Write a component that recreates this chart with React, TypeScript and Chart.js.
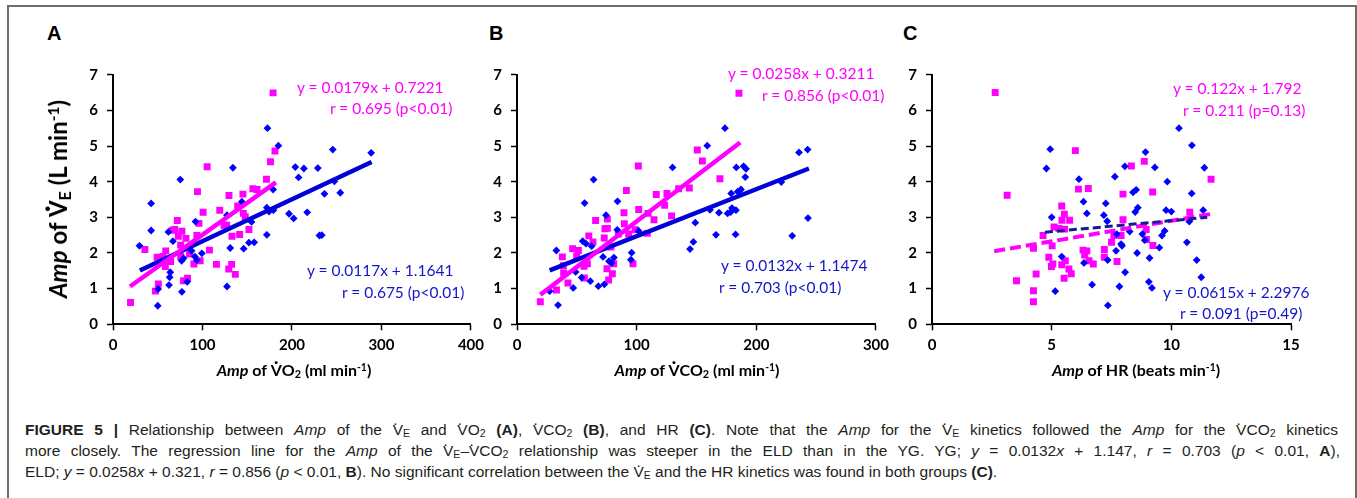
import React, { useEffect, useRef } from "react";
import { Chart, registerables } from "chart.js";

Chart.register(...registerables);

// ---------------- DATA ----------------
// Panel A: Amp of VO2 (x) vs Amp of VE (y)
const aYgX = [29.6, 42.6, 42.6, 50.4, 50, 61.9, 64, 63.3, 62.6, 67, 75.2, 77, 76.7, 78.9, 83, 87.8, 91.5, 92.2, 93.7, 99.3, 127.4, 131, 127.4, 134, 144, 146, 151.9, 154.8, 157.8, 171.9, 172.6, 171.9, 174.4, 178.9, 179.3, 184.8, 196.7, 201.9, 203.7, 207.4, 213.3, 217, 228.9, 230.7, 233.3, 236.3, 245.6, 247.4, 254, 288.5];
const aYgY = [2.2, 3.39, 2.63, 0.99, 0.52, 2.59, 1.46, 1.32, 1.1, 2.33, 4.06, 0.91, 1.78, 1.85, 1.19, 2.06, 1.9, 2.88, 1.8, 1.99, 1.06, 2.14, 3.06, 4.39, 3.44, 2.12, 2.29, 2.87, 2.3, 2.51, 5.5, 3.27, 3.16, 3.78, 3.2, 5.01, 3.1, 2.97, 4.41, 4.12, 4.37, 3.14, 4.38, 2.49, 2.5, 3.66, 4.9, 4.01, 3.69, 4.81];
const aEldX = [19.6, 35.6, 47.4, 50.7, 49.3, 56, 58.9, 58.5, 64.4, 66.3, 69, 71.9, 73, 75.6, 77, 75.6, 81.5, 85.6, 78.9, 83.3, 90.4, 93.7, 94.4, 96, 97.4, 100.7, 105.2, 107.8, 115.6, 119.3, 124, 127, 129.3, 132.6, 129.6, 133, 136.7, 139.3, 141.5, 145.2, 145.6, 147.8, 151.9, 156.3, 161, 171.5, 176, 181, 178.9];
const aEldY = [0.61, 2.1, 0.93, 1.13, 1.88, 1.9, 2.06, 1.62, 1.76, 2.64, 2.66, 2.91, 2.47, 2.22, 2.61, 1.9, 2.41, 1.97, 1.22, 1.29, 1.69, 2.49, 3.72, 2.83, 1.78, 3.14, 4.42, 2.08, 1.68, 3.2, 2.78, 2.78, 1.55, 1.68, 3.61, 2.47, 1.4, 3.32, 2.52, 3.65, 3.11, 3.02, 2.66, 3.8, 3.78, 4.07, 4.56, 4.86, 6.49];
const aYgLineX = [30, 289];
const aYgLineY = [1.51, 4.55];
const aEldLineX = [19, 182];
const aEldLineY = [1.06, 3.98];

// Panel B: Amp of VCO2 (x) vs Amp of VE (y)
const bYgX = [27.3, 34.3, 32.9, 47, 49, 54, 61.3, 68, 73, 54.9, 57.7, 62.4, 56.5, 64, 71.9, 76.9, 79, 81, 74.4, 83.8, 84, 95.8, 95.2, 101.7, 130, 144.6, 147.4, 149, 159, 161.3, 166.3, 168.8, 173.8, 176, 178.6, 179, 179.7, 182.7, 183, 183.3, 184.4, 187.2, 189.4, 190.8, 191.4, 220.9, 230, 235.7, 242.9, 243.2];
const bYgY = [0.93, 0.54, 2.07, 1.02, 1.47, 1.31, 1.21, 1.07, 1.12, 2.33, 2.26, 2.19, 3.4, 4.06, 1.89, 1.77, 1.72, 1.87, 3.06, 2.65, 3.45, 2.01, 1.81, 2.62, 4.4, 2.11, 2.31, 2.85, 5.01, 3.21, 2.51, 3.13, 5.5, 3.11, 3.15, 3.67, 3.26, 2.52, 3.2, 4.4, 3.72, 3.78, 4.43, 4.13, 4.36, 3.99, 2.48, 4.82, 4.9, 2.98];
const bEldX = [19.5, 33, 37.9, 39, 38.7, 42.6, 46.5, 51.3, 49.9, 56, 56.3, 58.8, 60, 63.5, 65.7, 72.9, 73.5, 75.5, 75.5, 78.5, 75.2, 79.7, 76.6, 80.8, 84.7, 89.4, 89.7, 91.4, 93.3, 96.9, 98.9, 101.4, 101.7, 108.9, 109.5, 114.5, 116.4, 123.4, 125.3, 129.2, 135.1, 144, 150.7, 154.9, 169.6, 185.5];
const bEldY = [0.63, 0.96, 1.89, 1.44, 1.64, 1.16, 2.12, 2.07, 1.91, 1.63, 1.3, 1.7, 2.48, 2.31, 2.91, 2.42, 2.68, 2.95, 2.69, 2.17, 1.56, 1.42, 1.24, 1.7, 2.53, 3.13, 2.82, 3.75, 2.53, 1.7, 2.65, 4.44, 3.22, 2.55, 3.11, 2.93, 3.64, 3.34, 3.67, 3.04, 3.8, 3.82, 4.89, 4.58, 4.08, 6.48];
const bYgLineX = [27.3, 244];
const bYgLineY = [1.51, 4.37];
const bEldLineX = [19.5, 186.5];
const bEldLineY = [0.83, 5.1];

// Panel C: Amp of HR (x) vs Amp of VE (y)
const cYgX = [4.78, 4.94, 5.0, 5.15, 5.42, 6.14, 6.33, 6.47, 6.35, 6.69, 7.18, 7.26, 7.32, 7.34, 7.35, 7.64, 7.69, 7.83, 7.9, 7.94, 7.72, 8.06, 8.07, 8.26, 8.4, 8.53, 8.6, 8.49, 8.57, 8.92, 8.79, 8.89, 9.06, 9.19, 9.09, 9.31, 9.5, 9.61, 9.72, 9.83, 9.78, 10.0, 10.32, 10.65, 10.75, 10.85, 10.86, 11.06, 11.25, 11.33, 11.38, 10.8];
const cYgY = [4.37, 4.91, 3.0, 0.93, 1.9, 4.07, 3.44, 3.11, 1.72, 1.11, 3.06, 3.39, 2.89, 1.8, 0.53, 4.14, 2.06, 1.06, 2.25, 2.2, 2.53, 4.43, 1.46, 2.6, 3.7, 3.77, 3.27, 3.15, 2.0, 4.83, 2.53, 2.36, 1.19, 1.02, 1.86, 4.4, 2.15, 2.49, 2.62, 4.0, 3.2, 3.16, 5.5, 2.3, 2.88, 3.67, 5.02, 1.8, 1.32, 3.2, 4.39, 2.95];
const cEldX = [2.64, 3.14, 3.53, 4.24, 4.24, 4.24, 4.35, 4.64, 5.02, 4.88, 4.99, 5.05, 5.42, 5.53, 5.43, 5.1, 5.3, 5.54, 5.75, 5.42, 5.57, 5.72, 5.82, 5.52, 5.99, 6.12, 6.53, 6.31, 6.47, 6.38, 6.56, 6.74, 7.2, 7.2, 7.5, 7.73, 7.98, 7.98, 7.6, 7.9, 8.33, 8.87, 9.22, 8.95, 8.96, 9.23, 10.77, 11.66];
const cEldY = [6.5, 3.62, 1.22, 0.94, 0.63, 2.13, 1.41, 2.49, 2.2, 1.88, 1.62, 1.69, 3.32, 3.09, 2.92, 2.73, 2.69, 2.67, 2.92, 1.67, 1.78, 1.55, 1.42, 1.29, 4.87, 3.79, 3.81, 2.08, 2.06, 1.94, 1.78, 1.69, 2.1, 1.88, 2.3, 1.76, 3.65, 2.93, 2.49, 2.49, 4.44, 4.57, 3.71, 2.66, 2.38, 2.21, 3.14, 4.07];
const cYgLineX = [4.72, 11.5];
const cYgLineY = [2.58, 3.0];
const cEldLineX = [2.6, 11.7];
const cEldLineY = [2.05, 3.1];

const yTicksMax = 7;
const xMaxA = 400;
const xMaxB = 300;
const xMaxC = 15;

// ---------------- STYLE ----------------
const PINK = "#FF00FF";
const BLUE = "#0000FF";
const BLUE_LINE = "#0000D8";
const NAVY = "#1A1A90";
const TXT_BLUE = "#1515C8";
const TICK_FONT = "Lato";

const zip = (xs: number[], ys: number[]) => xs.map((x, i) => ({ x, y: ys[i] }));

type PanelCfg = {
  canvasLeft: number;
  canvasTop: number;
  canvasW: number;
  canvasH: number;
  axisLeft: number;
  axisRight: number;
  axisTop: number;
  axisBottom: number;
  xMax: number;
  xStep: number;
  ygX: number[];
  ygY: number[];
  eldX: number[];
  eldY: number[];
  ygLineX: number[];
  ygLineY: number[];
  eldLineX: number[];
  eldLineY: number[];
  dashed: boolean;
};

function Panel({ cfg }: { cfg: PanelCfg }) {
  const ref = useRef<HTMLCanvasElement | null>(null);
  useEffect(() => {
    if (!ref.current) return;
    const c = cfg;
    const tickStyle = {
      color: "#000",
      font: { family: TICK_FONT, size: 15, weight: "bold" as const },
    };
    const chart = new Chart(ref.current, {
      type: "scatter",
      data: {
        datasets: [
          {
            data: zip(c.eldLineX, c.eldLineY),
            showLine: true,
            borderColor: PINK,
            borderWidth: c.dashed ? 4 : 4.5,
            borderDash: c.dashed ? [11, 5] : [],
            pointRadius: 0,
            pointHoverRadius: 0,
            order: 1,
          },
          {
            data: zip(c.ygLineX, c.ygLineY),
            showLine: true,
            borderColor: c.dashed ? NAVY : BLUE_LINE,
            borderWidth: c.dashed ? 3 : 4.5,
            borderDash: c.dashed ? [8, 4] : [],
            pointRadius: 0,
            pointHoverRadius: 0,
            order: c.dashed ? 0 : 2,
          },
          {
            data: zip(c.ygX, c.ygY),
            pointStyle: "rectRot",
            pointRadius: 3.9,
            pointHoverRadius: 3.9,
            backgroundColor: BLUE,
            borderWidth: 0,
            order: 3,
          },
          {
            data: zip(c.eldX, c.eldY),
            pointStyle: "rect",
            pointRadius: 4.9,
            pointHoverRadius: 4.9,
            backgroundColor: PINK,
            borderWidth: 0,
            order: 4,
          },
        ],
      },
      options: {
        responsive: false,
        animation: false,
        events: [],
        plugins: { legend: { display: false }, tooltip: { enabled: false } },
        layout: {
          padding: {
            left: 0,
            bottom: 0,
            top: c.axisTop - c.canvasTop,
            right: c.canvasLeft + c.canvasW - c.axisRight,
          },
        },
        scales: {
          x: {
            type: "linear",
            min: 0,
            max: c.xMax,
            afterFit: (s: any) => {
              s.height = c.canvasTop + c.canvasH - c.axisBottom;
            },
            ticks: { ...tickStyle, stepSize: c.xStep, padding: 6 },
            grid: {
              display: true,
              drawOnChartArea: false,
              drawTicks: true,
              tickLength: 6,
              tickColor: "#000",
              tickWidth: 1.5,
            },
            border: { display: true, color: "#000", width: 2 },
          },
          y: {
            type: "linear",
            min: 0,
            max: yTicksMax,
            afterFit: (s: any) => {
              s.width = c.axisLeft - c.canvasLeft;
            },
            ticks: { ...tickStyle, stepSize: 1, padding: 9 },
            grid: {
              display: true,
              drawOnChartArea: false,
              drawTicks: true,
              tickLength: 6,
              tickColor: "#000",
              tickWidth: 1.5,
            },
            border: { display: true, color: "#000", width: 2 },
          },
        },
      },
    } as any);
    return () => chart.destroy();
  }, [cfg]);
  return (
    <canvas
      ref={ref}
      width={cfg.canvasW}
      height={cfg.canvasH}
      style={{
        position: "absolute",
        left: cfg.canvasLeft,
        top: cfg.canvasTop,
        width: cfg.canvasW,
        height: cfg.canvasH,
      }}
    />
  );
}

const AXIS_TOP = 74.7;
const AXIS_BOTTOM = 324.3;

const panelA: PanelCfg = {
  canvasLeft: 60, canvasTop: 50, canvasW: 430, canvasH: 310,
  axisLeft: 113, axisRight: 473, axisTop: AXIS_TOP, axisBottom: AXIS_BOTTOM,
  xMax: xMaxA, xStep: 100,
  ygX: aYgX, ygY: aYgY, eldX: aEldX, eldY: aEldY,
  ygLineX: aYgLineX, ygLineY: aYgLineY, eldLineX: aEldLineX, eldLineY: aEldLineY,
  dashed: false,
};
const panelB: PanelCfg = {
  canvasLeft: 465, canvasTop: 50, canvasW: 430, canvasH: 310,
  axisLeft: 517, axisRight: 876, axisTop: AXIS_TOP, axisBottom: AXIS_BOTTOM,
  xMax: xMaxB, xStep: 100,
  ygX: bYgX, ygY: bYgY, eldX: bEldX, eldY: bEldY,
  ygLineX: bYgLineX, ygLineY: bYgLineY, eldLineX: bEldLineX, eldLineY: bEldLineY,
  dashed: false,
};
const panelC: PanelCfg = {
  canvasLeft: 880, canvasTop: 50, canvasW: 430, canvasH: 310,
  axisLeft: 932, axisRight: 1291, axisTop: AXIS_TOP, axisBottom: AXIS_BOTTOM,
  xMax: xMaxC, xStep: 5,
  ygX: cYgX, ygY: cYgY, eldX: cEldX, eldY: cEldY,
  ygLineX: cYgLineX, ygLineY: cYgLineY, eldLineX: cEldLineX, eldLineY: cEldLineY,
  dashed: true,
};

// ---------------- TEXT HELPERS ----------------
const Vd = ({ top = "-0.42em" }: { top?: string }) => (
  <span style={{ position: "relative", display: "inline-block" }}>
    V
    <span
      style={{
        position: "absolute",
        left: 0,
        right: 0,
        top,
        textAlign: "center",
        lineHeight: 1,
      }}
    >
      ·
    </span>
  </span>
);
const Sub = ({ children }: { children: React.ReactNode }) => (
  <span style={{ fontSize: "0.68em", verticalAlign: "-0.22em", lineHeight: 0 }}>{children}</span>
);
const Sup = ({ children }: { children: React.ReactNode }) => (
  <span style={{ fontSize: "0.65em", verticalAlign: "0.5em", lineHeight: 0 }}>{children}</span>
);

const abs = (left: number, top: number, extra: React.CSSProperties = {}): React.CSSProperties => ({
  position: "absolute",
  left,
  top,
  whiteSpace: "nowrap",
  ...extra,
});

const eqFont: React.CSSProperties = {
  fontFamily: "Lato, sans-serif",
  fontSize: 15.5,
  lineHeight: "20px",
};

function Eq({ x, y, color, text }: { x: number; y: number; color: string; text: string }) {
  return <div style={abs(x, y - 10, { ...eqFont, color })}>{text}</div>;
}

const letterStyle: React.CSSProperties = {
  fontFamily: "'Liberation Sans', Arial, sans-serif",
  fontWeight: "bold",
  fontSize: 20,
  lineHeight: "20px",
  color: "#000",
};

const xTitleStyle: React.CSSProperties = {
  fontFamily: "Lato, sans-serif",
  fontWeight: "bold",
  fontSize: 16,
  lineHeight: "20px",
  color: "#000",
  transform: "translateX(-50%)",
};

const capFont: React.CSSProperties = {
  fontFamily: "'Liberation Sans', Arial, sans-serif",
  fontSize: 15.5,
  lineHeight: "20px",
  color: "#231f20",
};

export default function App() {
  return (
    <div
      style={{
        position: "absolute",
        left: 0,
        top: 0,
        width: 1357,
        height: 498,
        background: "#fff",
        overflow: "hidden",
      }}
    >
      {/* frame */}
      <div
        style={{
          position: "absolute",
          left: 7,
          top: 5,
          width: 1346,
          height: 560,
          border: "2px solid #6e6e6e",
        }}
      />

      <Panel cfg={panelA} />
      <Panel cfg={panelB} />
      <Panel cfg={panelC} />

      {/* panel letters */}
      <div style={abs(47, 23, letterStyle)}>A</div>
      <div style={abs(489, 23, letterStyle)}>B</div>
      <div style={abs(903, 23, letterStyle)}>C</div>

      {/* y axis title */}
      <div
        style={{
          position: "absolute",
          left: 58,
          top: 199,
          transform: "translate(-50%, -50%) rotate(-90deg)",
          fontFamily: "Lato, sans-serif",
          fontWeight: "bold",
          fontSize: 24,
          lineHeight: "30px",
          whiteSpace: "nowrap",
          color: "#000",
        }}
      >
        <i>Amp</i> of <Vd top="-0.36em" />
        <Sub>E</Sub> (L min<Sup>-1</Sup>)
      </div>

      {/* x axis titles */}
      <div style={abs(294, 360, xTitleStyle)}>
        <i>Amp</i> of <Vd />O<Sub>2</Sub> (ml min<Sup>-1</Sup>)
      </div>
      <div style={abs(697, 360, xTitleStyle)}>
        <i>Amp</i> of <Vd />CO<Sub>2</Sub> (ml min<Sup>-1</Sup>)
      </div>
      <div style={abs(1136, 360, xTitleStyle)}>
        <i>Amp</i> of HR (beats min<Sup>-1</Sup>)
      </div>

      {/* regression equations */}
      <Eq x={297} y={87} color={PINK} text="y = 0.0179x + 0.7221" />
      <Eq x={330} y={108} color={PINK} text="r = 0.695 (p<0.01)" />
      <Eq x={307} y={270} color={TXT_BLUE} text="y = 0.0117x + 1.1641" />
      <Eq x={342} y={292} color={TXT_BLUE} text="r = 0.675 (p<0.01)" />

      <Eq x={728} y={73} color={PINK} text="y = 0.0258x + 0.3211" />
      <Eq x={762} y={95} color={PINK} text="r = 0.856 (p<0.01)" />
      <Eq x={721} y={265} color={TXT_BLUE} text="y = 0.0132x + 1.1474" />
      <Eq x={719} y={287} color={TXT_BLUE} text="r = 0.703 (p<0.01)" />

      <Eq x={1173} y={88} color={PINK} text="y = 0.122x + 1.792" />
      <Eq x={1183} y={110} color={PINK} text="r = 0.211 (p=0.13)" />
      <Eq x={1163} y={292} color={TXT_BLUE} text="y = 0.0615x + 2.2976" />
      <Eq x={1180} y={313} color={TXT_BLUE} text="r = 0.091 (p=0.49)" />

      {/* caption */}
      <div style={{ ...capFont, position: "absolute", left: 25, top: 420, width: 1313, textAlign: "justify", textAlignLast: "justify" }}>
        <b>FIGURE 5 |</b> Relationship between <i>Amp</i> of the <Vd top="-0.3em" />
        <Sub>E</Sub> and <Vd top="-0.3em" />O<Sub>2</Sub> <b>(A)</b>, <Vd top="-0.3em" />CO<Sub>2</Sub> <b>(B)</b>, and HR <b>(C)</b>. Note that the <i>Amp</i> for the <Vd top="-0.3em" />
        <Sub>E</Sub> kinetics followed the <i>Amp</i> for the <Vd top="-0.3em" />CO<Sub>2</Sub> kinetics
      </div>
      <div style={{ ...capFont, position: "absolute", left: 25, top: 441, width: 1315, textAlign: "justify", textAlignLast: "justify" }}>
        more closely. The regression line for the <i>Amp</i> of the <Vd top="-0.3em" />
        <Sub>E</Sub>–<Vd top="-0.3em" />CO<Sub>2</Sub> relationship was steeper in the ELD than in the YG. YG; <i>y</i> = 0.0132<i>x</i> + 1.147, <i>r</i> = 0.703 (<i>p</i> &lt; 0.01, <b>A</b>),
      </div>
      <div style={{ ...capFont, position: "absolute", left: 25, top: 462, whiteSpace: "nowrap" }}>
        ELD; <i>y</i> = 0.0258<i>x</i> + 0.321, <i>r</i> = 0.856 (<i>p</i> &lt; 0.01, <b>B</b>). No significant correlation between the <Vd top="-0.3em" />
        <Sub>E</Sub> and the HR kinetics was found in both groups <b>(C)</b>.
      </div>
    </div>
  );
}
